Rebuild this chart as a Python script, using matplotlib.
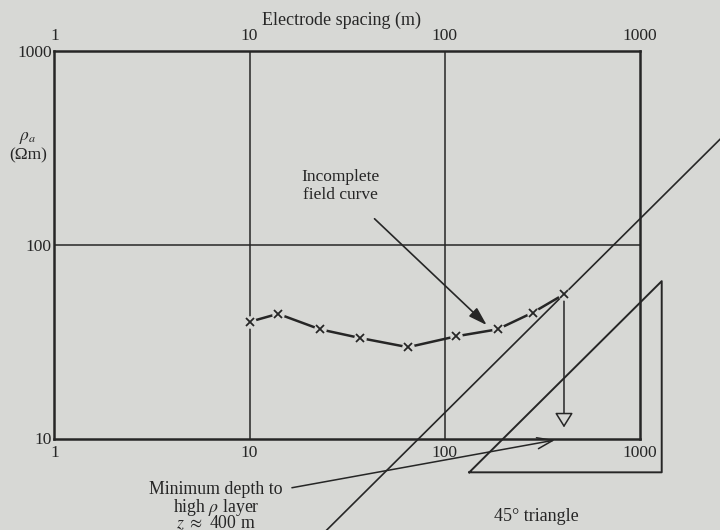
import numpy as np
import matplotlib
matplotlib.use('Agg')
import matplotlib.pyplot as plt

plt.rcParams['font.family'] = ['Liberation Serif', 'DejaVu Serif']
plt.rcParams['mathtext.fontset'] = 'stix'

# field data: electrode spacing (m) and apparent resistivity (ohm m)
spacing = [10, 14, 23, 37, 65, 115, 187, 283, 410]
rho_a = [40, 44, 36.6, 33, 29.6, 33.7, 36.6, 44.6, 55.5]

tick_vals = [1, 10, 100, 1000]
tick_labels = ['1', '10', '100', '1000']
ytick_vals = [10, 100, 1000]
ytick_labels = ['10', '100', '1000']

bg = '#d7d8d5'
ink = '#262626'

fig = plt.figure(figsize=(7.2, 5.3), dpi=100, facecolor=bg)
ax = fig.add_axes([54.5 / 720, (530 - 438.5) / 530, 585 / 720, 387.5 / 530])
ax.set_facecolor(bg)
ax.set_xscale('log')
ax.set_yscale('log')
ax.set_xlim(1, 1000)
ax.set_ylim(10, 1000)

# ticks on top and bottom, no tick marks
ax.set_xticks(tick_vals)
ax.set_xticklabels(tick_labels)
ax.set_yticks(ytick_vals)
ax.set_yticklabels(ytick_labels)
ax.minorticks_off()
ax.tick_params(axis='x', which='both', top=True, labeltop=True, length=0, pad=5,
               labelsize=12.5, colors=ink)
ax.tick_params(axis='y', which='both', length=0, pad=2, labelsize=12.5, colors=ink)
for s in ax.spines.values():
    s.set_linewidth(1.8)
    s.set_color(ink)

# decade grid
for xv in tick_vals[1:-1]:
    ax.axvline(xv, color=ink, lw=1.1, zorder=1)
for yv in ytick_vals[1:-1]:
    ax.axhline(yv, color=ink, lw=1.1, zorder=1)

# field curve with gaps at the points
ax.plot(spacing, rho_a, color=ink, lw=1.8, zorder=3)
ax.plot(spacing, rho_a, 'o', ms=9, mfc=bg, mec='none', zorder=4)
ax.plot(spacing, rho_a, 'x', ms=6, mew=1.3, color=ink, zorder=5)

# 45 degree line through the last point
k = rho_a[-1] / spacing[-1]
lx = np.array([20, 3000])
ax.plot(lx, k * lx, color=ink, lw=1.2, clip_on=False, zorder=2)

# 45 degree triangle
tri_x = [134, 1300, 1300, 134]
tri_y = [6.69, 6.69, 6.69 * 1300 / 134, 6.69]
ax.plot(tri_x, tri_y, color=ink, lw=1.4, clip_on=False, zorder=2)

# vertical arrow down from the last point
ax.annotate('', xy=(spacing[-1], 11.4), xytext=(spacing[-1], rho_a[-1] * 0.97),
            arrowprops=dict(arrowstyle='-|>,head_length=0.45,head_width=0.28',
                            mutation_scale=20, fc=bg, ec=ink, lw=1.1,
                            shrinkA=0, shrinkB=0),
            annotation_clip=False, zorder=3)

# labels
ax.annotate('Incomplete\nfield curve', xy=(164.6, 38.5), xytext=(29.1, 201),
            ha='center', va='center', fontsize=12.5, color=ink, linespacing=1.1,
            arrowprops=dict(arrowstyle='-|>,head_length=0.8,head_width=0.25',
                            mutation_scale=14, fc=ink, ec=ink, lw=1.2,
                            shrinkA=14, shrinkB=0))

ax.annotate('', xy=(368.7, 9.82), xytext=(16.5, 5.57),
            arrowprops=dict(arrowstyle='->,head_length=0.7,head_width=0.25',
                            mutation_scale=16, color=ink, lw=1.1,
                            shrinkA=0, shrinkB=0),
            annotation_clip=False)
fig.text(216 / 720, 1 - 489 / 530, 'Minimum depth to', ha='center', va='center',
         fontsize=12.8, color=ink)
fig.text(216 / 720, 1 - 507 / 530, r'high $\rho$ layer', ha='center', va='center',
         fontsize=12.8, color=ink)
fig.text(216 / 720, 1 - 523.5 / 530, r'$z$ $\approx$ 400 m', ha='center', va='center',
         fontsize=12.8, color=ink)

fig.text(536 / 720, 1 - 516.7 / 530, '45° triangle', ha='center', va='center',
         fontsize=13, color=ink)

fig.text(341 / 720, 1 - 20.5 / 530, 'Electrode spacing (m)', ha='center', va='center',
         fontsize=13, color=ink)
fig.text(28 / 720, 1 - 138 / 530, r'$\rho_a$', ha='center', va='center',
         fontsize=12.5, color=ink)
fig.text(28 / 720, 1 - 155 / 530, '(Ωm)', ha='center', va='center',
         fontsize=12.5, color=ink)

fig.savefig('out.png', dpi=100, facecolor=bg)
